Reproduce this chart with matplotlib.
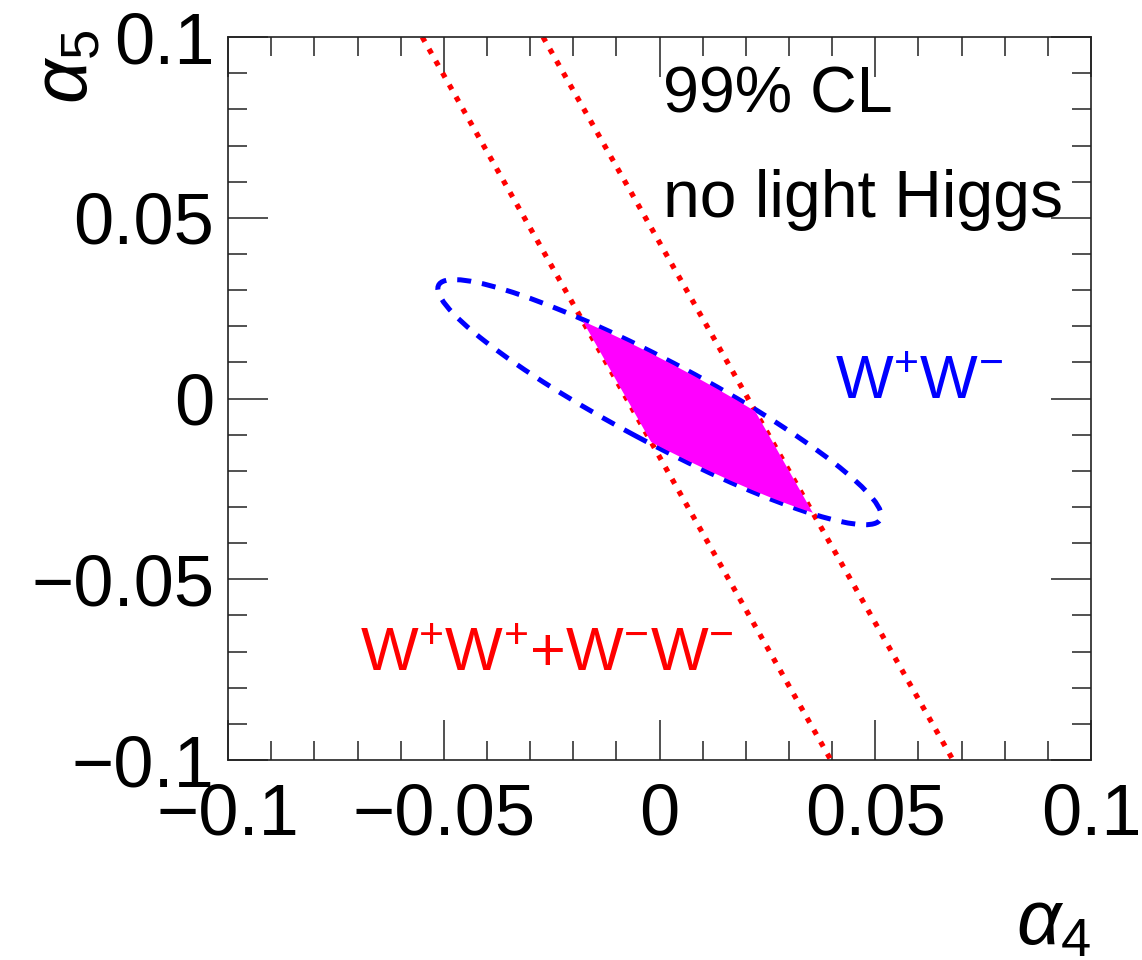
"""
alpha4 / alpha5 99% CL limits: W+W- ellipse, like-sign band and combined region
"""
import matplotlib.pyplot as plt
from matplotlib.patches import Ellipse, Polygon

plt.rcParams['font.family'] = ['Liberation Sans', 'DejaVu Sans']
plt.rcParams['mathtext.fontset'] = 'custom'
plt.rcParams['mathtext.rm'] = 'Liberation Sans'
plt.rcParams['mathtext.it'] = 'Liberation Sans:italic'

# axis range and tick labels
axis_range = [-0.1, 0.1]
major_ticks = [-0.1, -0.05, 0, 0.05, 0.1]
minor_ticks = [-0.09, -0.08, -0.07, -0.06, -0.04, -0.03, -0.02, -0.01,
               0.01, 0.02, 0.03, 0.04, 0.06, 0.07, 0.08, 0.09]
tick_labels = ['\u22120.1', '\u22120.05', '0', '0.05', '0.1']

# W+W- contour (ellipse: centre, full width, full height, angle in deg)
ww_center = (0.0, -0.001)
ww_width = 0.1212
ww_height = 0.0217
ww_angle = -32.6

# like-sign W+W+ + W-W- band: two straight edges
band_y = [0.1, -0.1]
band_left_x = [-0.055, 0.0397]
band_right_x = [-0.027, 0.068]

# combined region
comb_width = 0.1205
comb_height = 0.0208

fig = plt.figure(figsize=(11.42, 9.6), dpi=100)
ax = fig.add_axes([0.1997, 0.2083, 0.7557, 0.7531])

ax.plot(band_left_x, band_y, color='#ff0000', lw=3.8, ls=(0, (1, 1.6)),
        dash_capstyle='butt', zorder=2)
ax.plot(band_right_x, band_y, color='#ff0000', lw=3.8, ls=(0, (1, 1.6)),
        dash_capstyle='butt', zorder=2)

ww = Ellipse(ww_center, ww_width, ww_height, angle=ww_angle, fill=False,
             edgecolor='#0000ff', lw=3.6, ls=(0, (2.8, 2.2)), zorder=2)
ax.add_patch(ww)

# combined region = ellipse cut by the like-sign band
band = Polygon([(band_left_x[0], band_y[0]), (band_right_x[0], band_y[0]),
                (band_right_x[1], band_y[1]), (band_left_x[1], band_y[1])],
               closed=True, transform=ax.transData)
comb = Ellipse(ww_center, comb_width, comb_height, angle=ww_angle,
               facecolor='#ff00ff', edgecolor='none', zorder=3)
ax.add_patch(comb)
comb.set_clip_path(band)

ax.set_xlim(axis_range)
ax.set_ylim(axis_range)
ax.set_xticks(major_ticks)
ax.set_xticklabels(tick_labels)
ax.set_yticks(major_ticks)
ax.set_yticklabels(tick_labels)
ax.set_xticks(minor_ticks, minor=True)
ax.set_yticks(minor_ticks, minor=True)
ax.tick_params(which='both', direction='in', top=True, right=True,
               width=1.1, color='#222222')
ax.tick_params(which='major', length=28.5, labelsize=52)
ax.tick_params(which='minor', length=14)
ax.tick_params(axis='x', which='major', pad=16)
ax.tick_params(axis='y', which='major', pad=10)
for s in ax.spines.values():
    s.set_linewidth(1.2)
    s.set_color('#222222')

ax.set_xlabel(r'$\alpha_4$', fontsize=56, loc='right')
ax.xaxis.set_label_coords(1.0, -0.176)
ax.set_ylabel(r'$\alpha_5$', fontsize=56, loc='top')
ax.yaxis.set_label_coords(-0.1448, 1.0097)

ax.text(0.504, 0.896, '99% CL', transform=ax.transAxes, fontsize=46.5)
ax.text(0.504, 0.751, 'no light Higgs', transform=ax.transAxes, fontsize=47.5)
ax.text(0.703, 0.5007, 'W$^{+}$W$^{-}$', transform=ax.transAxes,
        fontsize=44, color='#0000ff')
ax.text(0.153, 0.1245, 'W$^{+}$W$^{+}$+W$^{-}$W$^{-}$', transform=ax.transAxes,
        fontsize=44, color='#ff0000')

plt.savefig('out.png', dpi=100)
